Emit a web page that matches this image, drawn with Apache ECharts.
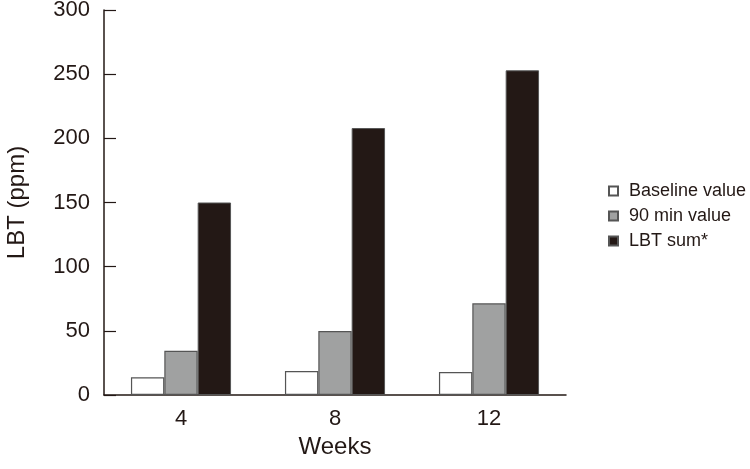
<!DOCTYPE html>
<html>
<head>
<meta charset="utf-8">
<script src="https://cdn.jsdelivr.net/npm/echarts@6/dist/echarts.min.js"></script>
<style>html,body{margin:0;padding:0;background:#fff}#c{width:750px;height:469px}</style>
</head>
<body>
<div id="c"></div>
<script>
const categories = ['4', '8', '12'];
const baselineValue = [13.8, 18.7, 17.9];
const min90Value = [34.5, 49.8, 71.4];
const lbtSum = [150, 208, 253];
const yTicks = [0, 50, 100, 150, 200, 250, 300];

const FONT = '"Liberation Sans", Arial, sans-serif';
const INK = '#231815';

const chart = echarts.init(document.getElementById('c'));
chart.setOption({
  animation: false,
  backgroundColor: '#fff',
  textStyle: { fontFamily: FONT, color: INK },
  grid: { left: 104, top: 10, width: 462, bottom: 74, containLabel: false, outerBoundsMode: 'none' },
  legend: {
    orient: 'vertical',
    left: 603,
    top: 177,
    itemWidth: 9,
    itemHeight: 9,
    itemGap: 7,
    icon: 'rect',
    textStyle: { fontFamily: FONT, fontSize: 18, lineHeight: 18, color: INK, padding: [0, 0, 0, 6] },
    data: ['Baseline value', '90 min value', 'LBT sum*']
  },
  xAxis: {
    type: 'category',
    data: categories,
    name: 'Weeks',
    nameLocation: 'middle',
    nameGap: 33,
    nameTextStyle: { fontFamily: FONT, fontSize: 24, color: INK },
    axisLine: { lineStyle: { color: INK, width: 1.5 } },
    axisTick: { show: false },
    axisLabel: { fontFamily: FONT, fontSize: 22, color: INK, margin: 13 }
  },
  yAxis: {
    type: 'value',
    min: yTicks[0],
    max: yTicks[yTicks.length - 1],
    interval: 50,
    name: 'LBT (ppm)',
    nameLocation: 'middle',
    nameGap: 75,
    nameTextStyle: { fontFamily: FONT, fontSize: 24, color: INK },
    axisLine: { show: true, lineStyle: { color: INK, width: 1.5 } },
    axisTick: { show: true, inside: true, length: 12, lineStyle: { color: INK, width: 1.2 } },
    splitLine: { show: false },
    axisLabel: { fontFamily: FONT, fontSize: 22, color: INK, margin: 14 }
  },
  series: [
    {
      name: 'Baseline value', type: 'bar', data: baselineValue,
      barGap: '0%', barCategoryGap: '35%',
      itemStyle: { color: '#ffffff', borderColor: '#555', borderWidth: 1.2 }
    },
    {
      name: '90 min value', type: 'bar', data: min90Value,
      barGap: '0%', barCategoryGap: '35%',
      itemStyle: { color: '#a0a1a1', borderColor: '#555', borderWidth: 1.2 }
    },
    {
      name: 'LBT sum*', type: 'bar', data: lbtSum,
      barGap: '0%', barCategoryGap: '35%',
      itemStyle: { color: INK, borderColor: '#555', borderWidth: 1 }
    }
  ]
});
</script>
</body>
</html>
